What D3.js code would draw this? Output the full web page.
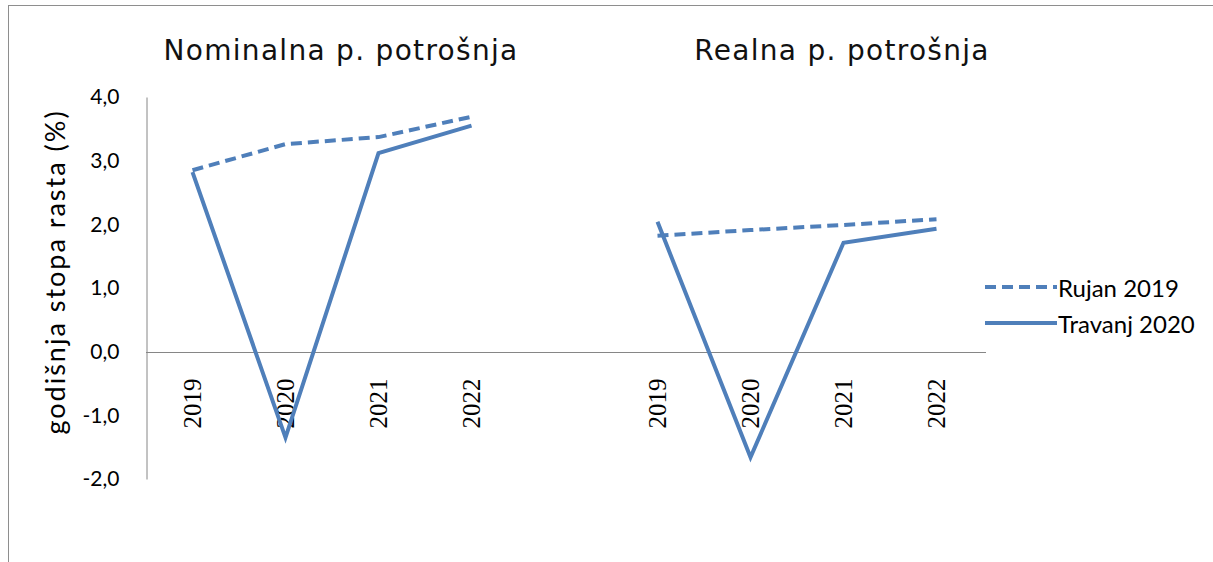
<!DOCTYPE html>
<html>
<head>
<meta charset="utf-8">
<script src="https://cdn.jsdelivr.net/npm/d3@7"></script>
<style>
    body { margin: 0; background: #fff; }
    svg { display: block; }
</style>
</head>
<body>
<svg id="chart"></svg>
<script>
// categories: two panels (nominal, real) separated by an empty slot
const categories = ["2019", "2020", "2021", "2022", "", "2019", "2020", "2021", "2022"];
const panelTitles = ["Nominalna p. potrošnja", "Realna p. potrošnja"];
const seriesNames = ["Rujan 2019", "Travanj 2020"];
const rujan2019 = [2.85, 3.26, 3.37, 3.69, null, 1.82, 1.91, 1.99, 2.08];
const travanj2020 = [2.82, -1.35, 3.12, 3.55, null, 2.04, -1.66, 1.71, 1.93];
const yTicks = [-2, -1, 0, 1, 2, 3, 4];
const yLabel = "godišnja stopa rasta (%)";

const width = 1213, height = 562;
const blue = "#4f7fba";

const svg = d3.select("#chart")
    .attr("width", width)
    .attr("height", height);

// outer frame (cut by the picture edges)
svg.append("rect")
    .attr("x", 8.5).attr("y", 5.5)
    .attr("width", 1300).attr("height", 700)
    .attr("fill", "none")
    .attr("stroke", "#8e8e8e");

const x = d3.scaleBand()
    .domain(d3.range(categories.length))
    .range([146, 983])
    .padding(0);

const y = d3.scaleLinear()
    .domain([-2, 4])
    .range([479, 97]);

const cx = i => x(i) + x.bandwidth() / 2;

// Y axis
const yAxis = svg.append("g")
    .attr("transform", "translate(146.5,0)")
    .call(d3.axisLeft(y)
        .tickValues(yTicks)
        .tickSize(0)
        .tickPadding(27)
        .tickFormat(d => d3.format(".1f")(d).replace(".", ",").replace("\u2212", "-")));
yAxis.select(".domain").attr("stroke", "#868686");
yAxis.selectAll("text")
    .attr("fill", "#000")
    .style("font-family", "Lato, 'Liberation Sans', sans-serif")
    .style("font-size", "21px");

// X axis on the zero line
const xAxis = svg.append("g")
    .attr("transform", `translate(0,${Math.round(y(0)) + 0.5})`)
    .call(d3.axisBottom(x)
        .tickSize(0)
        .tickFormat(i => categories[i]));
xAxis.select(".domain").attr("stroke", "#868686").attr("d", "M146,0H986");
xAxis.selectAll("text")
    .attr("transform", "rotate(-90)")
    .attr("text-anchor", "end")
    .attr("x", -26)
    .attr("y", 0)
    .attr("dy", "0.35em")
    .attr("fill", "#000")
    .style("font-family", "'Liberation Serif', 'DejaVu Serif', serif")
    .style("font-size", "25px");

// Y label
svg.append("text")
    .attr("transform", "translate(65,272) rotate(-90)")
    .attr("text-anchor", "middle")
    .style("font-family", "Lato, 'Liberation Sans', sans-serif")
    .style("font-size", "27px")
    .style("letter-spacing", "2px")
    .attr("fill", "#000")
    .text(yLabel);

// panel titles
const titleX = [341, 842];
svg.selectAll(".panel-title")
    .data(panelTitles)
    .join("text")
    .attr("class", "panel-title")
    .attr("x", (d, i) => titleX[i])
    .attr("y", 60)
    .attr("text-anchor", "middle")
    .style("font-family", "'DejaVu Sans', Verdana, sans-serif")
    .style("font-size", "28px")
    .style("letter-spacing", "1.3px")
    .attr("fill", "#111")
    .text(d => d);

// lines
const line = d3.line()
    .defined(d => d.v != null)
    .x(d => cx(d.i))
    .y(d => y(d.v));

const series = [
    {name: seriesNames[0], values: rujan2019, dash: "11,6"},
    {name: seriesNames[1], values: travanj2020, dash: null}
];

series.forEach(s => {
    svg.append("path")
        .datum(s.values.map((v, i) => ({i, v})))
        .attr("d", line)
        .attr("fill", "none")
        .attr("stroke", blue)
        .attr("stroke-width", 4)
        .attr("stroke-linejoin", "miter")
        .attr("stroke-dasharray", s.dash);
});

// legend
const legend = svg.append("g");
const legendY = [287, 323];
series.forEach((s, i) => {
    legend.append("line")
        .attr("x1", 985).attr("x2", 1057)
        .attr("y1", legendY[i]).attr("y2", legendY[i])
        .attr("stroke", blue)
        .attr("stroke-width", 4)
        .attr("stroke-dasharray", s.dash);
    legend.append("text")
        .attr("x", 1058)
        .attr("y", legendY[i] + 10)
        .style("font-family", "Lato, 'Liberation Sans', sans-serif")
        .style("font-size", "24px")
        .attr("fill", "#000")
        .text(s.name);
});
</script>
</body>
</html>
